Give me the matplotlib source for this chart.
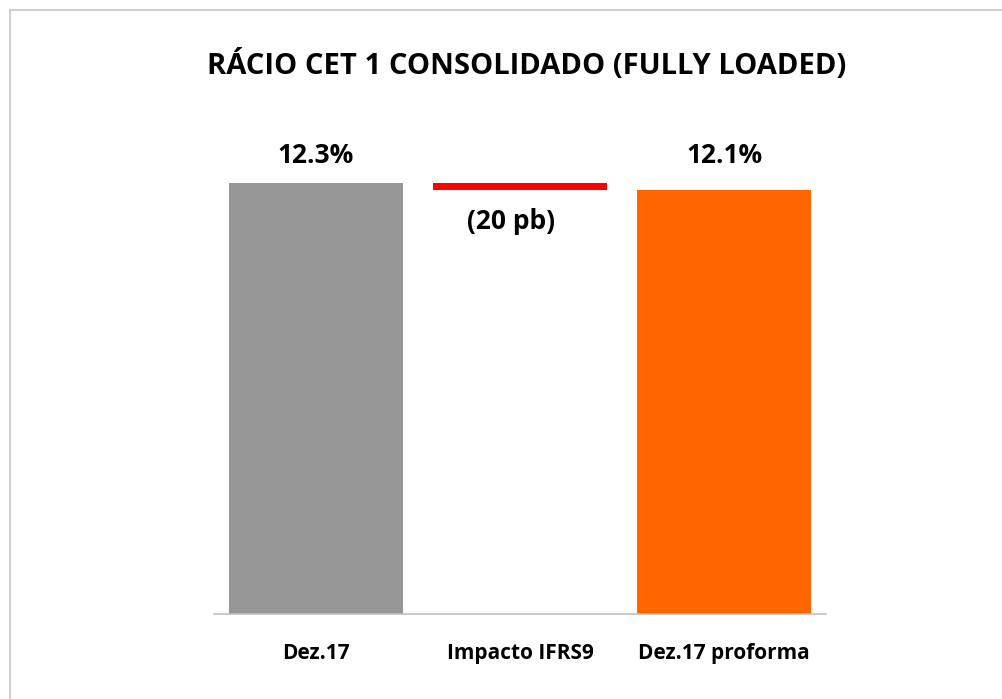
import matplotlib.pyplot as plt
from matplotlib.lines import Line2D

# dados
categorias = ['Dez.17', 'Impacto IFRS9', 'Dez.17 proforma']
valores = [12.3, -0.2, 12.1]
rotulos = ['12.3%', '(20 pb)', '12.1%']
cores = ['#969696', '#FF0000', '#FF6600']

plt.rcParams['font.family'] = ['Open Sans', 'DejaVu Sans']

fig = plt.figure(figsize=(10.02, 6.99), dpi=100)
ax = fig.add_axes([214/1002, 85/699, 612/1002, 0.70])

# barras tipo waterfall
x = range(len(categorias))
base = [0, valores[0] + valores[1], 0]
altura = [valores[0], -valores[1], valores[2]]
ax.bar(x, altura, bottom=base, width=0.853, color=cores)

# rotulos
ax.text(0, valores[0] + 0.4, rotulos[0], ha='center', va='bottom', fontsize=19, fontweight='bold')
ax.text(1 - 0.045, base[1] - 0.5, rotulos[1], ha='center', va='top', fontsize=19, fontweight='bold')
ax.text(2, valores[2] + 0.6, rotulos[2], ha='center', va='bottom', fontsize=19, fontweight='bold')

ax.set_xlim(-0.5, 2.5)
ax.set_ylim(0, 0.70*699/35.04)
ax.set_xticks(list(x))
ax.set_xticklabels(categorias, fontsize=15, fontweight='bold')
ax.tick_params(axis='x', length=0, pad=21)
ax.set_yticks([])
for s in ['top', 'right', 'left']:
    ax.spines[s].set_visible(False)
ax.spines['bottom'].set_color('#BFBFBF')
ax.spines['bottom'].set_linewidth(1.2)

fig.text(527/1002, 1 - 65/699, 'RÁCIO CET 1 CONSOLIDADO (FULLY LOADED)', ha='center', va='center',
         fontsize=21, fontweight='bold')

# moldura
fig.add_artist(Line2D([10/1002, 10/1002], [0, 1 - 10/699], color='#D0D0D0', lw=1.5, transform=fig.transFigure))
fig.add_artist(Line2D([10/1002, 1], [1 - 10/699, 1 - 10/699], color='#D0D0D0', lw=1.5, transform=fig.transFigure))

plt.savefig('out.png', dpi=100)
